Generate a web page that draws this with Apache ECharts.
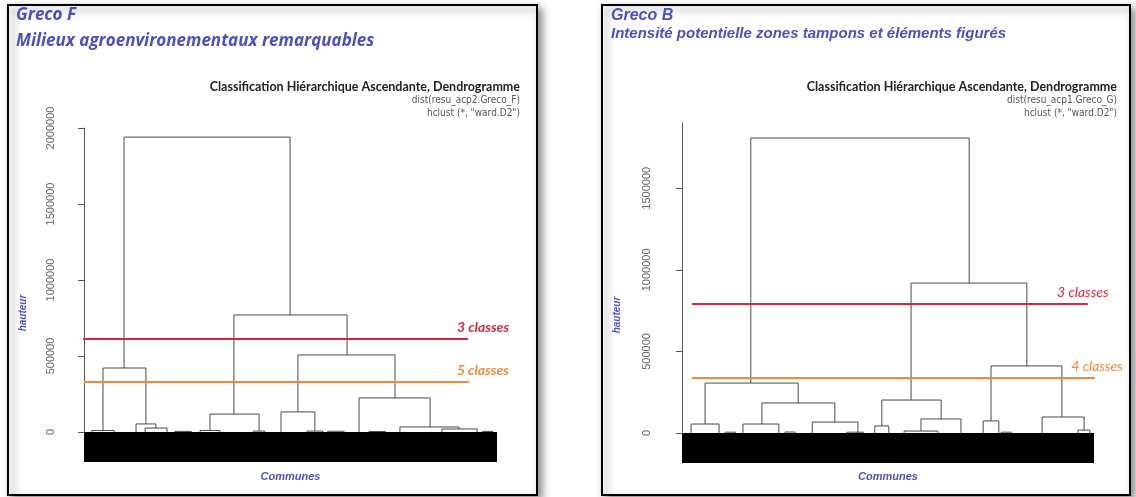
<!DOCTYPE html>
<html>
<head>
<meta charset="utf-8">
<title>Dendrogrammes Greco F / Greco B</title>
<script src="https://cdn.jsdelivr.net/npm/echarts@6/dist/echarts.min.js"></script>
<style>
  html, body { margin: 0; padding: 0; background: #fff; }
  #chart { width: 1136px; height: 497px; }
</style>
</head>
<body>
<div id="chart"></div>
<script>
// position des feuilles : 0..100 sur la largeur du bloc "Communes"
// une fusion = [x gauche, hauteur gauche, x droite, hauteur droite, hauteur de fusion]
const mergesF = [
  [9.7, 421000, 49.9, 770000, 1940000],
  [4.6, 10000, 15.0, 53000, 421000],
  [1.9, 0, 7.3, 0, 10000],
  [12.6, 0, 17.4, 26000, 53000],
  [14.8, 0, 20.1, 0, 26000],
  [36.3, 118000, 63.7, 507000, 770000],
  [30.5, 10000, 42.4, 6000, 118000],
  [28.1, 0, 32.9, 0, 10000],
  [41.0, 0, 43.8, 0, 6000],
  [51.8, 132000, 75.3, 224000, 507000],
  [47.7, 0, 55.9, 6000, 132000],
  [54.0, 0, 57.8, 0, 6000],
  [66.6, 0, 83.8, 33000, 224000],
  [76.5, 0, 90.8, 20000, 33000],
  [86.7, 0, 95.2, 0, 20000],
  [22.0, 0, 26.0, 0, 4000],
  [59.0, 0, 63.0, 0, 5000],
  [69.0, 0, 73.0, 0, 3000],
  [96.5, 0, 99.0, 0, 4000]
];
const mergesB = [
  [16.7, 306000, 69.7, 919000, 1808000],
  [5.6, 55000, 28.2, 184000, 306000],
  [2.2, 0, 9.0, 0, 55000],
  [19.4, 55000, 37.1, 67000, 184000],
  [14.8, 0, 23.5, 0, 55000],
  [31.6, 0, 42.7, 0, 67000],
  [55.6, 202000, 83.7, 411000, 919000],
  [48.5, 43000, 62.9, 86000, 202000],
  [46.8, 0, 50.2, 0, 43000],
  [58.0, 12000, 67.7, 0, 86000],
  [53.9, 0, 62.1, 0, 12000],
  [75.0, 74000, 92.2, 98000, 411000],
  [73.1, 0, 76.9, 0, 74000],
  [87.4, 0, 97.6, 18000, 98000],
  [96.1, 0, 99.0, 0, 18000],
  [10.5, 0, 13.0, 0, 5000],
  [25.0, 0, 27.5, 0, 6000],
  [40.0, 0, 44.0, 0, 5000],
  [77.5, 0, 80.0, 0, 5000]
];
// étendue des feuilles (bloc noir des étiquettes)
const leavesF = [[0, 100]];
const leavesB = [[0, 100]];

// coupures
const cutLabelsF = ['3 classes', '5 classes'];
const cutHeightsF = [612000, 329000];
const cutSpansF = [[-0.2, 93.0], [0, 93.2]];
const cutLabelsB = ['3 classes', '4 classes'];
const cutHeightsB = [790000, 337000];
const cutSpansB = [[2.4, 98.5], [2.4, 105.6]];

const yTicksF = [0, 500000, 1000000, 1500000, 2000000];
const yTicksB = [0, 500000, 1000000, 1500000];

const BLUE = '#4f4fbf';
const RED = '#d8283e';
const ORANGE = '#f08a3c';

const chart = echarts.init(document.getElementById('chart'));

function renderMerge(params, api) {
  const a = api.coord([api.value(0), api.value(1)]);
  const b = api.coord([api.value(0), api.value(4)]);
  const c = api.coord([api.value(2), api.value(4)]);
  const d = api.coord([api.value(2), api.value(3)]);
  return {
    type: 'polyline',
    shape: { points: [a, b, c, d] },
    style: { stroke: '#4a4a4a', lineWidth: 1, fill: null }
  };
}

function renderBlock(params, api) {
  const p0 = api.coord([api.value(0), 0]);
  const p1 = api.coord([api.value(1), 0]);
  return {
    type: 'rect',
    shape: { x: p0[0], y: p0[1], width: p1[0] - p0[0], height: 30 },
    style: { fill: '#000' }
  };
}

function cutSeries(idx, labels, heights, spans, colors, labelOffsets, bold) {
  return labels.map((lab, i) => ({
    type: 'line',
    xAxisIndex: idx,
    yAxisIndex: idx,
    clip: false,
    silent: true,
    symbol: 'circle',
    symbolSize: 1,
    showSymbol: true,
    itemStyle: { color: 'rgba(0,0,0,0)', borderWidth: 0 },
    lineStyle: { color: colors[i], width: 2 },
    data: [
      [spans[i][0], heights[i]],
      {
        value: [spans[i][1], heights[i]],
        label: {
          show: true,
          position: 'top',
          offset: labelOffsets[i],
          formatter: lab,
          color: colors[i],
          fontFamily: 'Lato',
          fontStyle: 'italic',
          fontWeight: bold ? 'bold' : 'normal',
          fontSize: 14
        }
      }
    ]
  }));
}

function yAxisFor(idx, max, ticks, offset) {
  return {
    gridIndex: idx,
    type: 'value',
    min: 0,
    max: max,
    interval: 500000,
    offset: offset,
    axisLine: { show: true, lineStyle: { color: '#555', width: 1 } },
    axisTick: { show: true, length: 6, customValues: ticks, lineStyle: { color: '#555' } },
    axisLabel: {
      customValues: ticks,
      rotate: 90,
      margin: 12,
      color: '#666',
      fontSize: 11,
      fontFamily: 'Liberation Sans',
      formatter: v => String(v)
    },
    splitLine: { show: false }
  };
}

function xAxisFor(idx, gap) {
  return {
    gridIndex: idx,
    type: 'value',
    min: 0,
    max: 100,
    axisLine: { show: false },
    axisTick: { show: false },
    axisLabel: { show: false },
    splitLine: { show: false },
    name: 'Communes',
    nameLocation: 'middle',
    nameGap: gap,
    nameTextStyle: {
      color: BLUE,
      fontFamily: 'Liberation Sans',
      fontStyle: 'italic',
      fontWeight: 'bold',
      fontSize: 11
    }
  };
}

const blueTitle = (size, fam) => ({
  fontFamily: fam, fontStyle: 'italic', fontWeight: 'bold', fontSize: size, color: BLUE
});
const headStyle = { fontFamily: 'Lato', fontWeight: 'bold', fontSize: 12.5, color: '#222' };
const subStyle = {
  fontFamily: "'Liberation Sans Narrow', 'DejaVu Sans Condensed', sans-serif",
  fontWeight: 'normal', fontSize: 10, color: '#555'
};

const option = {
  backgroundColor: '#fff',
  animation: false,
  title: [
    { text: 'Greco F', left: 16, top: 7, padding: 0, textStyle: blueTitle(17, 'Open Sans') },
    { text: 'Milieux agroenvironementaux remarquables', left: 16, top: 33, padding: 0, textStyle: blueTitle(17, 'Open Sans') },
    { text: 'Classification Hiérarchique Ascendante, Dendrogramme', right: 616, top: 80, padding: 0, textStyle: headStyle },
    { text: 'dist(resu_acp2.Greco_F)', right: 616, top: 95, padding: 0, textStyle: subStyle },
    { text: 'hclust (*, "ward.D2")', right: 616, top: 108, padding: 0, textStyle: subStyle },
    { text: 'Greco B', left: 611, top: 8, padding: 0, textStyle: blueTitle(16, 'Liberation Sans') },
    { text: 'Intensité potentielle zones tampons et éléments figurés', left: 611, top: 26, padding: 0, textStyle: blueTitle(15, 'Liberation Sans') },
    { text: 'Classification Hiérarchique Ascendante, Dendrogramme', right: 19, top: 80, padding: 0, textStyle: headStyle },
    { text: 'dist(resu_acp1.Greco_G)', right: 19, top: 95, padding: 0, textStyle: subStyle },
    { text: 'hclust (*, "ward.D2")', right: 19, top: 108, padding: 0, textStyle: subStyle }
  ],
  graphic: [
    {
      type: 'rect', z: -10,
      shape: { x: 8, y: 5, width: 529, height: 490 },
      style: { fill: '#fff', stroke: '#000', lineWidth: 2, shadowBlur: 8, shadowOffsetX: 4, shadowOffsetY: 4, shadowColor: 'rgba(0,0,0,0.45)' }
    },
    {
      type: 'rect', z: -10,
      shape: { x: 602, y: 5, width: 528, height: 490 },
      style: { fill: '#fff', stroke: '#000', lineWidth: 2, shadowBlur: 8, shadowOffsetX: 4, shadowOffsetY: 4, shadowColor: 'rgba(0,0,0,0.45)' }
    },
    {
      type: 'text', x: 23, y: 313, rotation: Math.PI / 2,
      style: { text: 'hauteur', fill: BLUE, font: 'italic bold 10px "Liberation Sans"', textAlign: 'center', textVerticalAlign: 'middle' }
    },
    {
      type: 'text', x: 617, y: 315, rotation: Math.PI / 2,
      style: { text: 'hauteur', fill: BLUE, font: 'italic bold 10px "Liberation Sans"', textAlign: 'center', textVerticalAlign: 'middle' }
    }
  ],
  grid: [
    { left: 84, top: 128, width: 413, height: 304 },
    { left: 682, top: 123, width: 412, height: 310 }
  ],
  xAxis: [xAxisFor(0, 39), xAxisFor(1, 38)],
  yAxis: [yAxisFor(0, 2000000, yTicksF, 16), yAxisFor(1, 1900000, yTicksB, 18)],
  series: [
    { type: 'custom', xAxisIndex: 0, yAxisIndex: 0, silent: true, renderItem: renderBlock, data: leavesF, encode: { x: [0, 1] } },
    { type: 'custom', xAxisIndex: 1, yAxisIndex: 1, silent: true, renderItem: renderBlock, data: leavesB, encode: { x: [0, 1] } },
    { type: 'custom', xAxisIndex: 0, yAxisIndex: 0, silent: true, renderItem: renderMerge, data: mergesF, encode: { x: [0, 2], y: [1, 3, 4] } },
    { type: 'custom', xAxisIndex: 1, yAxisIndex: 1, silent: true, renderItem: renderMerge, data: mergesB, encode: { x: [0, 2], y: [1, 3, 4] } },
    ...cutSeries(0, cutLabelsF, cutHeightsF, cutSpansF, [RED, ORANGE], [[15, 1], [14, 1]], true),
    ...cutSeries(1, cutLabelsB, cutHeightsB, cutSpansB, [RED, ORANGE], [[-5, 1], [-20, 1]], false)
  ]
};

chart.setOption(option);
</script>
</body>
</html>
